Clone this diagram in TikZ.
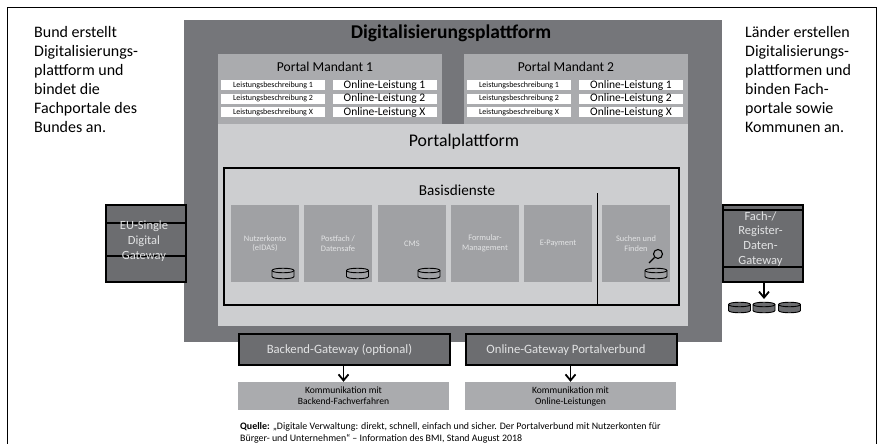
\documentclass[tikz,border=0pt]{standalone}
\usepackage{fontspec}
\setmainfont{Carlito}
\usetikzlibrary{positioning}
\usetikzlibrary{arrows.meta}
\definecolor{darkgrey}{RGB}{117,118,122}
\definecolor{midgrey}{RGB}{170,171,174}
\definecolor{tilegrey}{RGB}{160,161,164}
\definecolor{lightgrey}{RGB}{205,206,208}
\definecolor{gategrey}{RGB}{108,109,112}
\definecolor{paletext}{RGB}{226,227,228}
\tikzset{
	disk/.pic={
		\draw[line width=0.9pt, fill=#1] (-11,-3) .. controls (-11,-6) and (11,-6) .. (11,-3) -- (11,3) .. controls (11,6) and (-11,6) .. (-11,3) -- cycle;
		\draw[line width=0.9pt] (-11,-3) .. controls (-11,0) and (11,0) .. (11,-3);
	}
}
\begin{document}
\begin{tikzpicture}[x=1pt,y=-1pt]
	\tikzstyle{area}=[anchor=north west, inner sep=0pt, outer sep=0pt]
	\tikzstyle{sidetext}=[anchor=north west, inner sep=0pt, align=left, font=\fontsize{16}{19}\selectfont]
	\tikzstyle{lb}=[fill=white, minimum width=104pt, minimum height=10pt, inner sep=0pt, font=\fontsize{8}{8}\selectfont]
	\tikzstyle{ol}=[fill=white, minimum width=104pt, minimum height=10pt, inner sep=0pt, font=\fontsize{11.5}{11.5}\selectfont]
	\tikzstyle{tile}=[fill=tilegrey, minimum width=68pt, minimum height=77pt, inner sep=0pt, text=paletext, align=center, font=\fontsize{8.4}{9.5}\selectfont]
	\tikzstyle{gate}=[draw=black, line width=2pt, fill=gategrey, inner sep=0pt, align=center]
	\tikzstyle{gatetext}=[text=paletext, align=center, inner sep=0pt]
	\tikzstyle{comm}=[fill=midgrey, minimum width=211pt, minimum height=28pt, inner sep=0pt, align=center, font=\fontsize{9.6}{11}\selectfont]
	\tikzstyle{arr}=[-{Straight Barb[width=10pt,length=6pt]}, line width=1.8pt]

	\useasboundingbox (0,0) rectangle (878,444);
	\node[draw=black, line width=1pt, minimum width=869pt, minimum height=480pt, anchor=north west, inner sep=0pt] (frame) at (7,7) {};

	\node[sidetext] (bund) at (34,26.5) {Bund erstellt\\Digitalisierungs-\\plattform und\\bindet die\\Fachportale des\\Bundes an.};
	\node[sidetext] (laender) at (745,26.5) {Länder erstellen\\Digitalisierungs-\\plattformen und\\binden Fach-\\portale sowie\\Kommunen an.};

	\node[area, fill=darkgrey, minimum width=538pt, minimum height=322pt] (platform) at (184,20) {};
	\node[font=\fontsize{19.5}{19.5}\selectfont\bfseries] (platformt) at (451,33) {Digitalisierungsplattform};

	\node[area, fill=midgrey, minimum width=224pt, minimum height=70pt] (portal1) at (218,54) {};
	\node[font=\fontsize{13.6}{13.6}\selectfont] (portal1t) at (325,67) {Portal Mandant 1};
	\node[lb] (lb11) at (273,85) {Leistungsbeschreibung 1};
	\node[lb] (lb12) at (273,98.5) {Leistungsbeschreibung 2};
	\node[lb] (lb13) at (273,112) {Leistungsbeschreibung X};
	\node[ol] (ol11) at (384.5,85) {Online-Leistung 1};
	\node[ol] (ol12) at (384.5,98.5) {Online-Leistung 2};
	\node[ol] (ol13) at (384.5,112) {Online-Leistung X};

	\node[area, fill=midgrey, minimum width=224pt, minimum height=70pt] (portal2) at (464,54) {};
	\node[font=\fontsize{13.6}{13.6}\selectfont] (portal2t) at (566,67) {Portal Mandant 2};
	\node[lb] (lb21) at (519,85) {Leistungsbeschreibung 1};
	\node[lb] (lb22) at (519,98.5) {Leistungsbeschreibung 2};
	\node[lb] (lb23) at (519,112) {Leistungsbeschreibung X};
	\node[ol] (ol21) at (631,85) {Online-Leistung 1};
	\node[ol] (ol22) at (631,98.5) {Online-Leistung 2};
	\node[ol] (ol23) at (631,112) {Online-Leistung X};

	\node[area, fill=lightgrey, minimum width=470pt, minimum height=202pt] (pp) at (218,124) {};
	\node[font=\fontsize{17.8}{17.8}\selectfont] (ppt) at (464,142) {Portalplattform};

	\node[area, draw=black, line width=1.2pt, minimum width=455pt, minimum height=137pt] (basis) at (224,168) {};
	\node[font=\fontsize{15.2}{15.2}\selectfont] (basist) at (457,190) {Basisdienste};

	\node[tile] (nutzer) at (265,243.5) {Nutzerkonto\\(eIDAS)};
	\node[tile] (postfach) at (338,243.5) {Postfach /\\Datensafe};
	\node[tile] (cms) at (412,243.5) {CMS};
	\node[tile] (formular) at (485,243.5) {Formular-\\Management};
	\node[tile] (payment) at (558,243.5) {E-Payment};
	\node[tile] (suchen) at (636,243.5) {Suchen und\\Finden};

	\coordinate (divtop) at (597.5,193);
	\coordinate (divbot) at (597.5,305);
	\draw[line width=0.8pt] (divtop) -- (divbot);

	\pic at (283,273.5) {disk=tilegrey};
	\pic at (357.5,273.5) {disk=tilegrey};
	\pic at (429,273.5) {disk=tilegrey};
	\pic at (656,273.5) {disk=tilegrey};

	% Lupe
	\node[circle, draw=black, line width=1.1pt, minimum size=9pt, inner sep=0pt] (lens) at (658,254) {};
	\coordinate (griff) at (649,263);
	\draw[line width=1.3pt] (lens) -- (griff);

	\node[gate, minimum width=80pt, minimum height=77pt] (eu) at (146,243.5) {};
	\draw[line width=1.2pt] (eu.west |- 0,223) -- (eu.east |- 0,223);
	\draw[line width=1.2pt] (eu.west |- 0,256) -- (eu.east |- 0,256);
	\node[gatetext, font=\fontsize{12.5}{15}\selectfont] (eut) at (144,241) {EU-Single\\Digital\\Gateway};

	\node[gate, minimum width=80pt, minimum height=77pt] (fach) at (763,243.5) {};
	\draw[line width=1.2pt] (fach.west |- 0,210) -- (fach.east |- 0,210);
	\draw[line width=1.2pt] (fach.west |- 0,267) -- (fach.east |- 0,267);
	\node[gatetext, font=\fontsize{12.5}{14.7}\selectfont] (facht) at (760.5,239) {Fach-/\\Register-\\Daten-\\Gateway};

	\pic at (739.5,307.5) {disk=gategrey};
	\pic at (764,307.5) {disk=gategrey};
	\pic at (789.5,307.5) {disk=gategrey};
	\coordinate (fdtop) at (764,299);
	\draw[arr] (fach.south -| fdtop) -- (fdtop);

	\node[gate, minimum width=211pt, minimum height=31pt] (backend) at (344.5,349.5) {};
	\node[gatetext, font=\fontsize{12.7}{12.7}\selectfont] (backendt) at (339.5,350) {Backend-Gateway (optional)};
	\node[gate, minimum width=211pt, minimum height=31pt] (online) at (571.5,349.5) {};
	\node[gatetext, font=\fontsize{12.7}{12.7}\selectfont] (onlinet) at (566,350) {Online-Gateway Portalverbund};
	\node[comm] (kback) at (343.5,396) {Kommunikation mit\\Backend-Fachverfahren};
	\node[comm] (konl) at (570.5,396) {Kommunikation mit\\Online-Leistungen};
	\draw[arr] (backend.south -| kback) -- (kback.north);
	\draw[arr] (online.south -| konl) -- (konl.north);

	\node[anchor=north west, inner sep=0pt, align=left, font=\fontsize{9.9}{11.7}\selectfont] (quelle) at (240,422.5) {\textbf{Quelle:} „Digitale Verwaltung: direkt, schnell, einfach und sicher. Der Portalverbund mit Nutzerkonten für\\Bürger- und Unternehmen“ – Information des BMI, Stand August 2018};
\end{tikzpicture}
\end{document}
